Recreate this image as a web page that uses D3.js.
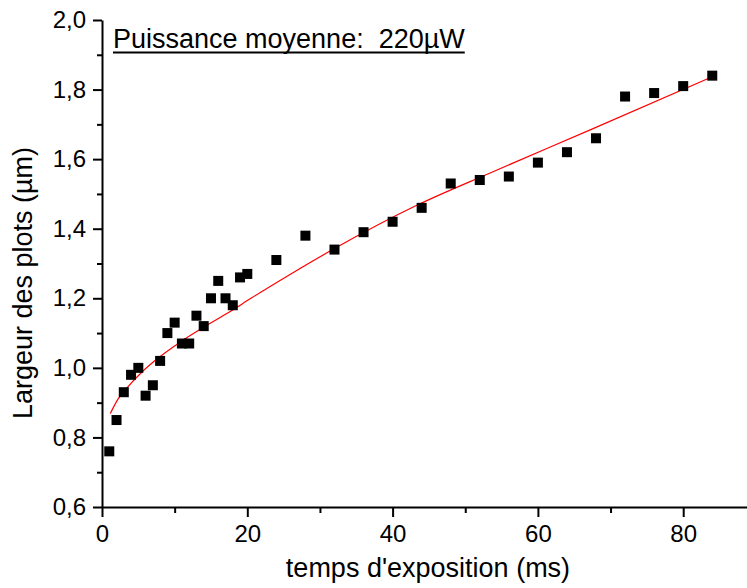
<!DOCTYPE html>
<html>
<head>
<meta charset="utf-8">
<script src="https://cdn.jsdelivr.net/npm/d3@7"></script>
<style>
  body { margin: 0; background: #fff; }
  svg { display: block; font-family: Arial, "Liberation Sans", sans-serif; }
</style>
</head>
<body>
<div id="chart"></div>
<script>
// Largeur des plots vs temps d'exposition (220 µW)

// measured points
const expTime = [1, 2, 3, 4, 5, 6, 7, 8, 9, 10, 11, 12, 13, 14, 15, 16, 17, 18, 19, 20,
  24, 28, 32, 36, 40, 44, 48, 52, 56, 60, 64, 68, 72, 76, 80, 84];
const plotWidth = [0.76, 0.85, 0.93, 0.98, 1.00, 0.92, 0.95, 1.02, 1.10, 1.13, 1.07, 1.07, 1.15, 1.12, 1.20, 1.25, 1.20, 1.18, 1.26, 1.27,
  1.31, 1.38, 1.34, 1.39, 1.42, 1.46, 1.53, 1.54, 1.55, 1.59, 1.62, 1.66, 1.78, 1.79, 1.81, 1.84];

// red fit curve
const fitTime = [1.15, 2.2, 3.5, 5.4, 7.6, 10.9, 14.1, 17.8, 20.5, 26, 32, 43.4, 53.5, 67.2, 84];
const fitWidth = [0.869, 0.910, 0.944, 0.986, 1.026, 1.076, 1.118, 1.164, 1.200, 1.270, 1.343, 1.468, 1.561, 1.684, 1.837];

const xMajor = [0, 20, 40, 60, 80];
const xMinor = [10, 30, 50, 70];
const yMajor = [0.6, 0.8, 1.0, 1.2, 1.4, 1.6, 1.8, 2.0];
const yMinor = [0.7, 0.9, 1.1, 1.3, 1.5, 1.7, 1.9];

const width = 747;
const height = 588;
const margin = { top: 20, right: 0, bottom: 81, left: 102 };

const svg = d3.select("#chart")
  .append("svg")
  .attr("width", width)
  .attr("height", height);

const xScale = d3.scaleLinear()
  .domain([0, 89])
  .range([margin.left, margin.left + 89 * 7.265]);

const yScale = d3.scaleLinear()
  .domain([0.6, 2.0])
  .range([height - margin.bottom, margin.top]);

const fmtY = d => d3.format(".1f")(d).replace(".", ",");

// minor ticks first
svg.append("g")
  .attr("transform", `translate(0,${height - margin.bottom})`)
  .call(d3.axisBottom(xScale).tickValues(xMinor).tickSize(6).tickFormat(""))
  .call(g => g.select(".domain").remove());

svg.append("g")
  .attr("transform", `translate(${margin.left},0)`)
  .call(d3.axisLeft(yScale).tickValues(yMinor).tickSize(5).tickFormat(""))
  .call(g => g.select(".domain").remove());

// major axes
svg.append("g")
  .attr("transform", `translate(0,${height - margin.bottom})`)
  .call(d3.axisBottom(xScale).tickValues(xMajor).tickSize(10).tickSizeOuter(0).tickPadding(8));

svg.append("g")
  .attr("transform", `translate(${margin.left},0)`)
  .call(d3.axisLeft(yScale).tickValues(yMajor).tickSize(9).tickSizeOuter(0).tickPadding(7).tickFormat(fmtY));

svg.selectAll(".domain, .tick line")
  .attr("stroke", "#000")
  .attr("stroke-width", 2);

svg.selectAll(".tick text")
  .attr("fill", "#000")
  .style("font-size", "24px");

// axis titles
svg.append("text")
  .attr("x", 428)
  .attr("y", 577)
  .attr("text-anchor", "middle")
  .style("font-size", "27px")
  .text("temps d'exposition (ms)");

svg.append("text")
  .attr("transform", "translate(32,283) rotate(-90)")
  .attr("text-anchor", "middle")
  .style("font-size", "27px")
  .text("Largeur des plots (µm)");

// fit line
const line = d3.line()
  .x((d, i) => xScale(fitTime[i]))
  .y(d => yScale(d))
  .curve(d3.curveMonotoneX);

svg.append("path")
  .datum(fitWidth)
  .attr("d", line)
  .attr("fill", "none")
  .attr("stroke", "#ff0000")
  .attr("stroke-width", 1.2);

// data squares
const sq = 10;
svg.selectAll("rect.pt")
  .data(plotWidth)
  .enter()
  .append("rect")
  .attr("class", "pt")
  .attr("x", (d, i) => xScale(expTime[i]) - sq / 2)
  .attr("y", d => yScale(d) - sq / 2)
  .attr("width", sq)
  .attr("height", sq)
  .attr("fill", "#000");

// title, underlined
const title = svg.append("text")
  .attr("x", 113)
  .attr("y", 48)
  .style("font-size", "27px")
  .attr("xml:space", "preserve")
  .style("white-space", "pre")
  .text("Puissance moyenne:  220µW");

const tw = title.node().getComputedTextLength();
svg.append("line")
  .attr("x1", 113)
  .attr("x2", 113 + tw)
  .attr("y1", 52.5)
  .attr("y2", 52.5)
  .attr("stroke", "#000")
  .attr("stroke-width", 2);
</script>
</body>
</html>
